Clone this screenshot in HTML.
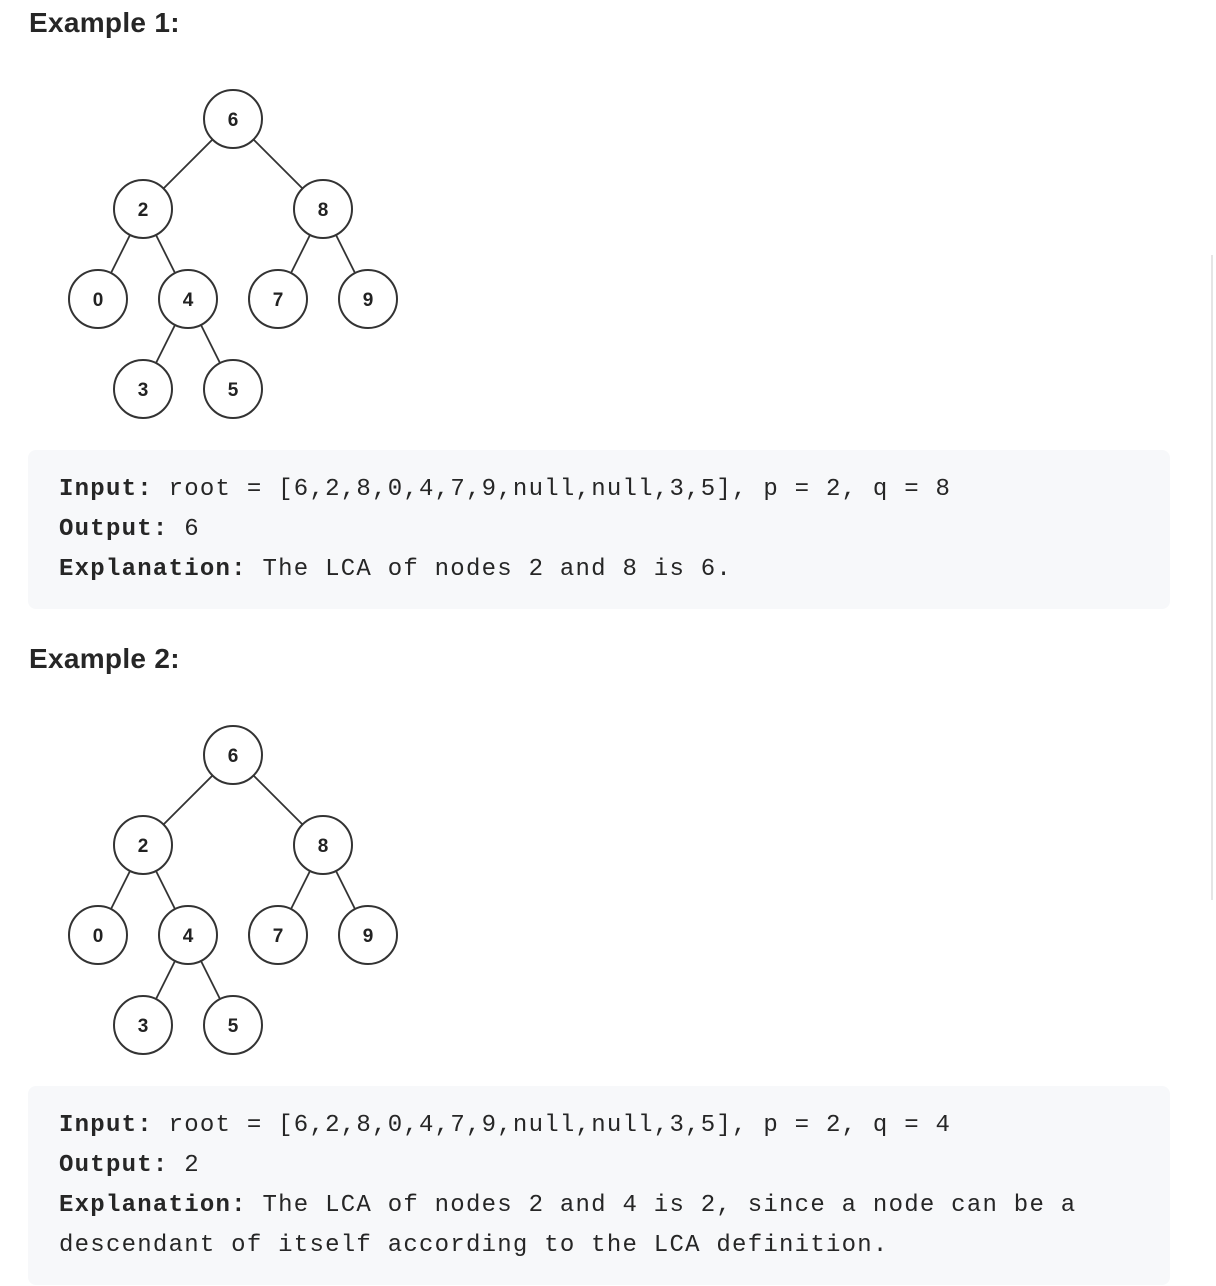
<!DOCTYPE html>
<html><head><style>
body{margin:0;width:1216px;height:1286px;background:#fff;position:relative;overflow:hidden;font-family:"Liberation Sans",sans-serif;color:#262626}
h3{position:absolute;left:29px;margin:0;font-size:28px;font-weight:bold;letter-spacing:0.3px;line-height:30px}
.box{position:absolute;left:28px;width:1142px;background:#f7f8fa;border-radius:8px}
.box pre{margin:0;position:absolute;left:31px;font-family:"Liberation Mono",monospace;font-size:24px;letter-spacing:1.25px;line-height:40px;color:#262626;white-space:pre}
b{font-weight:bold}
svg{position:absolute;left:0}
.vl{position:absolute;left:1211px;top:255px;width:2px;height:645px;background:#e5e5e5}
</style></head><body>
<h3 style="top:8px">Example 1:</h3>
<svg style="top:0" width="420" height="430" viewBox="0 0 420 430">
<g stroke="#333" stroke-width="1.8" fill="none">
<line x1="233" y1="119" x2="143" y2="209"/><line x1="233" y1="119" x2="323" y2="209"/>
<line x1="143" y1="209" x2="98" y2="299"/><line x1="143" y1="209" x2="188" y2="299"/>
<line x1="323" y1="209" x2="278" y2="299"/><line x1="323" y1="209" x2="368" y2="299"/>
<line x1="188" y1="299" x2="143" y2="389"/><line x1="188" y1="299" x2="233" y2="389"/>
</g>
<g stroke="#333" stroke-width="2" fill="#fff">
<circle cx="233" cy="119" r="29"/><circle cx="143" cy="209" r="29"/><circle cx="323" cy="209" r="29"/>
<circle cx="98" cy="299" r="29"/><circle cx="188" cy="299" r="29"/><circle cx="278" cy="299" r="29"/><circle cx="368" cy="299" r="29"/>
<circle cx="143" cy="389" r="29"/><circle cx="233" cy="389" r="29"/>
</g>
<g font-family="Liberation Sans" font-size="19" font-weight="bold" fill="#222" text-anchor="middle">
<text x="233" y="126">6</text><text x="143" y="216">2</text><text x="323" y="216">8</text>
<text x="98" y="306">0</text><text x="188" y="306">4</text><text x="278" y="306">7</text><text x="368" y="306">9</text>
<text x="143" y="396">3</text><text x="233" y="396">5</text>
</g></svg>
<div class="box" style="top:450px;height:159px"><pre style="top:20px"><b>Input:</b> root = [6,2,8,0,4,7,9,null,null,3,5], p = 2, q = 8
<b>Output:</b> 6
<b>Explanation:</b> The LCA of nodes 2 and 8 is 6.</pre></div>
<h3 style="top:644px">Example 2:</h3>
<svg style="top:636px" width="420" height="430" viewBox="0 0 420 430">
<g stroke="#333" stroke-width="1.8" fill="none">
<line x1="233" y1="119" x2="143" y2="209"/><line x1="233" y1="119" x2="323" y2="209"/>
<line x1="143" y1="209" x2="98" y2="299"/><line x1="143" y1="209" x2="188" y2="299"/>
<line x1="323" y1="209" x2="278" y2="299"/><line x1="323" y1="209" x2="368" y2="299"/>
<line x1="188" y1="299" x2="143" y2="389"/><line x1="188" y1="299" x2="233" y2="389"/>
</g>
<g stroke="#333" stroke-width="2" fill="#fff">
<circle cx="233" cy="119" r="29"/><circle cx="143" cy="209" r="29"/><circle cx="323" cy="209" r="29"/>
<circle cx="98" cy="299" r="29"/><circle cx="188" cy="299" r="29"/><circle cx="278" cy="299" r="29"/><circle cx="368" cy="299" r="29"/>
<circle cx="143" cy="389" r="29"/><circle cx="233" cy="389" r="29"/>
</g>
<g font-family="Liberation Sans" font-size="19" font-weight="bold" fill="#222" text-anchor="middle">
<text x="233" y="126">6</text><text x="143" y="216">2</text><text x="323" y="216">8</text>
<text x="98" y="306">0</text><text x="188" y="306">4</text><text x="278" y="306">7</text><text x="368" y="306">9</text>
<text x="143" y="396">3</text><text x="233" y="396">5</text>
</g></svg>
<div class="box" style="top:1086px;height:199px"><pre style="top:20px"><b>Input:</b> root = [6,2,8,0,4,7,9,null,null,3,5], p = 2, q = 4
<b>Output:</b> 2
<b>Explanation:</b> The LCA of nodes 2 and 4 is 2, since a node can be a
descendant of itself according to the LCA definition.</pre></div>
<div class="vl"></div>
</body></html>
